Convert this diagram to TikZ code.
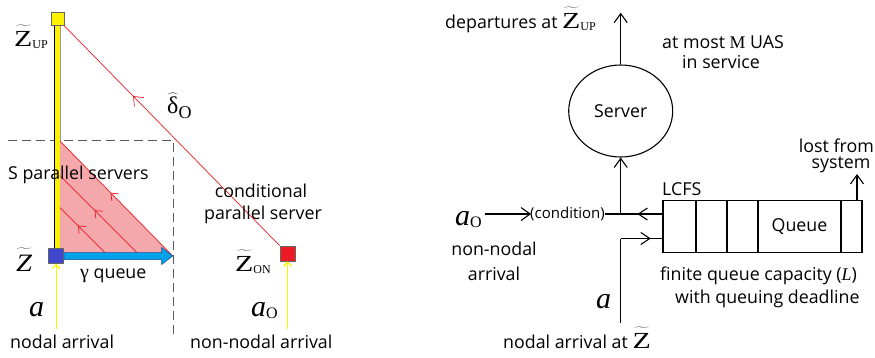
\documentclass[tikz,border=0pt]{standalone}
\usepackage{fontspec}
\usepackage{graphicx}
\setmainfont{Open Sans}
\newfontfamily\serif{Liberation Serif}
\usetikzlibrary{arrows.meta,decorations.markings,shapes.geometric}

\definecolor{postyellow}{RGB}{255,242,0}
\definecolor{nodeblue}{RGB}{63,72,204}
\definecolor{nodered}{RGB}{237,28,36}
\definecolor{zonepink}{RGB}{245,168,172}
\definecolor{flowcyan}{RGB}{0,162,232}
\definecolor{flowedge}{RGB}{30,70,150}
\definecolor{frame}{RGB}{90,90,90}

% tilde-Z and subscripted symbols
\newcommand\wideZ{\scalebox{1.3}[1]{\serif Z}}
\newcommand\tilZ{\ensuremath{\widetilde{\hbox{\wideZ\rule{0pt}{0.78em}}}}}
\newcommand\tilZit{\ensuremath{\widetilde{\hbox{\scalebox{1.15}[1]{\serif\itshape Z}\rule{0pt}{0.78em}}}}}
\newcommand\bigZ{{\fontsize{23}{23}\selectfont\tilZ}}
\newcommand\Zsub[1]{\bigZ{\serif\fontsize{12}{12}\selectfont\raisebox{-2pt}{#1}}}
\newcommand\arrN{{\serif\itshape\fontsize{30}{30}\selectfont a}}
\newcommand\arrO{\arrN{\serif\fontsize{16}{16}\selectfont\raisebox{-2pt}{O}}}
\newcommand\delO{{\fontsize{24}{24}\selectfont$\widehat{\hbox{\serif δ}}$}{\serif\fontsize{18}{18}\selectfont\raisebox{-5pt}{O}}}

\begin{document}
\begin{tikzpicture}[x=1pt,y=-1pt,
  txt/.style={inner sep=0pt, font=\fontsize{17.8}{20}\selectfont},
  lbl/.style={inner sep=0pt},
  redline/.style={draw=nodered, line width=0.7pt},
  redmid/.style={postaction={decorate}, decoration={markings, mark=at position #1 with {\arrow[nodered, line width=0.7pt]{Straight Barb[length=6pt,width=10pt]}}}},
  redmidbig/.style={postaction={decorate}, decoration={markings, mark=at position #1 with {\arrow[nodered, line width=0.7pt]{Straight Barb[length=8pt,width=13pt]}}}},
  barb/.style={line width=1.1pt, -{Straight Barb[length=9pt,width=13pt]}},
  midbarb/.style={postaction={decorate}, decoration={markings, mark=at position #1 with {\arrow[line width=1.1pt]{Straight Barb[length=9pt,width=12pt]}}}},
  yelarrow/.style={draw=postyellow, line width=1.2pt, -{Straight Barb[length=4pt,width=8pt]}},
  sq/.style={draw=black!60, line width=0.6pt, minimum size=#1, inner sep=0pt},
  cell/.style={draw, line width=1.1pt, minimum height=52pt, inner sep=0pt},
]
\useasboundingbox (0,0) rectangle (875,357);

% ---------- left: spatial view ----------
% dashed service frame
\draw[frame, line width=1pt, dash pattern=on 9pt off 5pt] (8,140) -- (173,140) -- (173,337);

% shaded region of parallel servers
\fill[zonepink] (60,141) -- (60,252.7) -- (169.5,252.7) -- cycle;

% vertical post
\fill[postyellow] (54.5,25) rectangle (60,252);
\draw[black, line width=0.8pt] (54.5,25) -- (54.5,252);
\draw[black!40, line width=0.5pt] (60,25) -- (60,141);

% nodes
\node[sq=13pt, fill=postyellow] (up) at (57.3,18.8) {};
\node[sq=15pt, fill=nodeblue] (z) at (56.2,256) {};
\node[sq=15pt, fill=nodered] (on) at (287.5,253.5) {};

% parallel server paths
\coordinate (h1a) at (105,252.5); \coordinate (h1b) at (60,207.5);
\coordinate (h2a) at (137,252.5); \coordinate (h2b) at (60,175.5);
\coordinate (h3a) at (172.7,256); \coordinate (h3b) at (60,141);
\draw[redline, redmid=0.6] (h1a) -- (h1b);
\draw[redline, redmid=0.55] (h2a) -- (h2b);
\draw[redline, redmid=0.55] (h3a) -- (h3b);

% conditional parallel server path
\draw[redline, redmidbig=0.68] (on.north west) -- (up.south east);

% queue arrow
\fill[flowcyan, draw=flowedge, line width=0.5pt]
  (z.east |- 0,252.7) -- (161.7,252.7) -- (161.7,247.5) -- (172.7,256)
  -- (161.7,264.5) -- (161.7,259.7) -- (z.east |- 0,259.7) -- cycle;

% arrivals
\coordinate (za) at (56.2,329);
\coordinate (oa) at (287.5,329);
\draw[yelarrow] (za) -- (z.south);
\draw[yelarrow] (oa) -- (on.south);

% labels
\node[lbl, anchor=base west] (zupL) at (14,46.5) {\Zsub{UP}};
\node[lbl, anchor=base west] (zL) at (16,271) {{\fontsize{25}{25}\selectfont\tilZit}};
\node[lbl, anchor=base west] (zon) at (235,271) {\Zsub{ON}};
\node[lbl, anchor=base west] (aL) at (29,316) {\arrN};
\node[lbl, anchor=base west] (aoL) at (251,316) {\arrO};
\node[lbl, anchor=base west] (delta) at (167,113) {\delO};
\node[txt, anchor=base west] (gq) at (80,278) {{\serif\fontsize{20}{20}\selectfont γ} queue};
\node[txt, anchor=base west] (spar) at (8,179) {S parallel servers};
\node[txt, anchor=base] (cond1) at (261,197) {conditional};
\node[txt, anchor=base] (cond2) at (263,219) {parallel server};
\node[txt, anchor=base west] (nar) at (10,348) {nodal arrival};
\node[txt, anchor=base west] (nnar) at (190,348) {non-nodal arrival};

% ---------- right: queueing view ----------
\node[draw, ellipse, line width=1.1pt, minimum width=104pt, minimum height=92pt, font=\fontsize{17.8}{20}\selectfont] (srv) at (620.7,111) {Server};

% queue cells
\node[cell, minimum width=33pt] (c1) at (679.5,226.7) {};
\node[cell, minimum width=31pt] (c2) at (711.5,226.7) {};
\node[cell, minimum width=31pt] (c3) at (742.5,226.7) {};
\node[cell, minimum width=83pt, font=\fontsize{17.8}{20}\selectfont] (c4) at (799.5,226.7) {Queue};
\node[cell, minimum width=21pt] (c5) at (851.5,226.7) {};

\coordinate (dep) at (620.7,12.7);
\coordinate (jn) at (620.7,214);
\coordinate (jb) at (620.7,238.5);
\coordinate (nodalin) at (620.7,323);
\coordinate (lost) at (857,174);

\node[lbl, anchor=base west] (aoR) at (455,225) {\arrO};
\node[lbl, anchor=west, font=\fontsize{15}{16}\selectfont] (cond) at (530,214) {(condition)};
\node[lbl, anchor=base west] (aR) at (596,308) {\arrN};

% flows
\draw[barb] (srv.north) -- (dep);
\draw[barb] (jn) -- (srv.south);
\draw[line width=1.1pt, midbarb=0.6] (c1.west |- jn) -- (jn);
\draw[line width=1.1pt] (jn) -- (cond.east);
\draw[barb] ([xshift=3pt]aoR.east |- cond.west) -- ([xshift=1pt]cond.west);
\draw[line width=1.1pt] (nodalin) -- (jb);
\draw[line width=1.1pt, midbarb=0.72] (jb) -- (c1.west |- jb);
\draw[barb] ([xshift=5.5pt]c5.north) -- (lost);

% text
\node[txt, anchor=base west] (deptxt) at (445,28) {departures at \Zsub{UP}};
\node[txt, anchor=base west] (most) at (662,48) {at most {\serif M} UAS};
\node[txt, anchor=base west] (insvc) at (682,68) {in service};
\node[txt, anchor=base east] (lost1) at (874,152) {lost from};
\node[txt, anchor=base] (lost2) at (841,168) {system};
\node[txt, anchor=base west] (lcfs) at (662,195) {LCFS};
\node[txt, anchor=base west] (fin) at (660,280) {finite queue capacity ({\serif\itshape L})};
\node[txt, anchor=base west] (ddl) at (675,303) {with queuing deadline};
\node[txt, anchor=base] (nn1) at (494,255) {non-nodal};
\node[txt, anchor=base] (nn2) at (494,280) {arrival};
\node[txt, anchor=base west] (nat) at (503,348) {nodal arrival at \bigZ};
\end{tikzpicture}
\end{document}
